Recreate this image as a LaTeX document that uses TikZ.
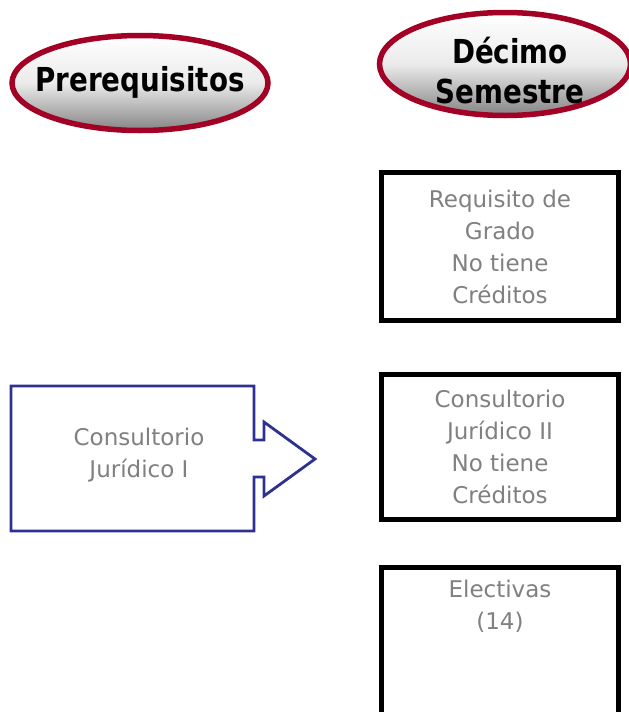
\documentclass[tikz,border=0pt]{standalone}
\usepackage{fontspec}
\setmainfont{DejaVu Sans}
\newfontfamily\titlefont[FakeStretch=0.84]{DejaVu Sans}
\usepackage{xcolor}
\definecolor{darkwine}{RGB}{163,0,38}
\definecolor{navyline}{RGB}{46,49,146}
\definecolor{textgray}{RGB}{128,128,128}

\tikzset{
  titleoval/.style={draw=darkwine, line width=5.5pt,
    top color=white, bottom color=black!48, middle color=black!8},
  titletext/.style={align=center, font=\titlefont\bfseries\fontsize{33}{40}\selectfont},
  semestrebox/.style={draw=black, line width=5pt, fill=white, inner sep=0pt,
    minimum width=237pt},
  graytext/.style={text=textgray, align=center, font=\fontsize{23}{32}\selectfont}
}

\begin{document}
\begin{tikzpicture}[x=1pt,y=-1pt]
    \useasboundingbox[fill=white] (0,0) rectangle (629,712);

    % Column titles
    \draw[titleoval] (140,83) ellipse [x radius=128, y radius=47.5];
    \draw[titleoval] (505,64) ellipse [x radius=125.5, y radius=51.5];
    \node[titletext] (prereq) at (140,82) {Prerequisitos};
    \node[titletext] (decimo) at (510,71) {D\'ecimo\\Semestre};

    % Subjects of the semester
    \node[semestrebox, graytext, minimum height=148pt] (grado) at (500,246.5)
        {Requisito de\\Grado\\No tiene\\Cr\'editos};
    \node[semestrebox, graytext, minimum height=145pt] (cjdos) at (500,447)
        {Consultorio\\Jur\'idico II\\No tiene\\Cr\'editos};
    \node[semestrebox, minimum height=180pt, anchor=north] (electivas) at (500,564.5) {};
    \node[graytext] (electivastxt) at (500,606) {Electivas\\(14)};

    % Prerequisite with arrow
    \node[graytext] (cjuno) at (139,455) {Consultorio\\Jur\'idico I};
    \draw[navyline, line width=2.8pt, line join=miter]
        (11,386) -- (254,386) -- (254,440) -- (264,440) -- (264,422) -- (315,459)
        -- (264,496) -- (264,477) -- (254,477) -- (254,531) -- (11,531) -- cycle;
\end{tikzpicture}
\end{document}
